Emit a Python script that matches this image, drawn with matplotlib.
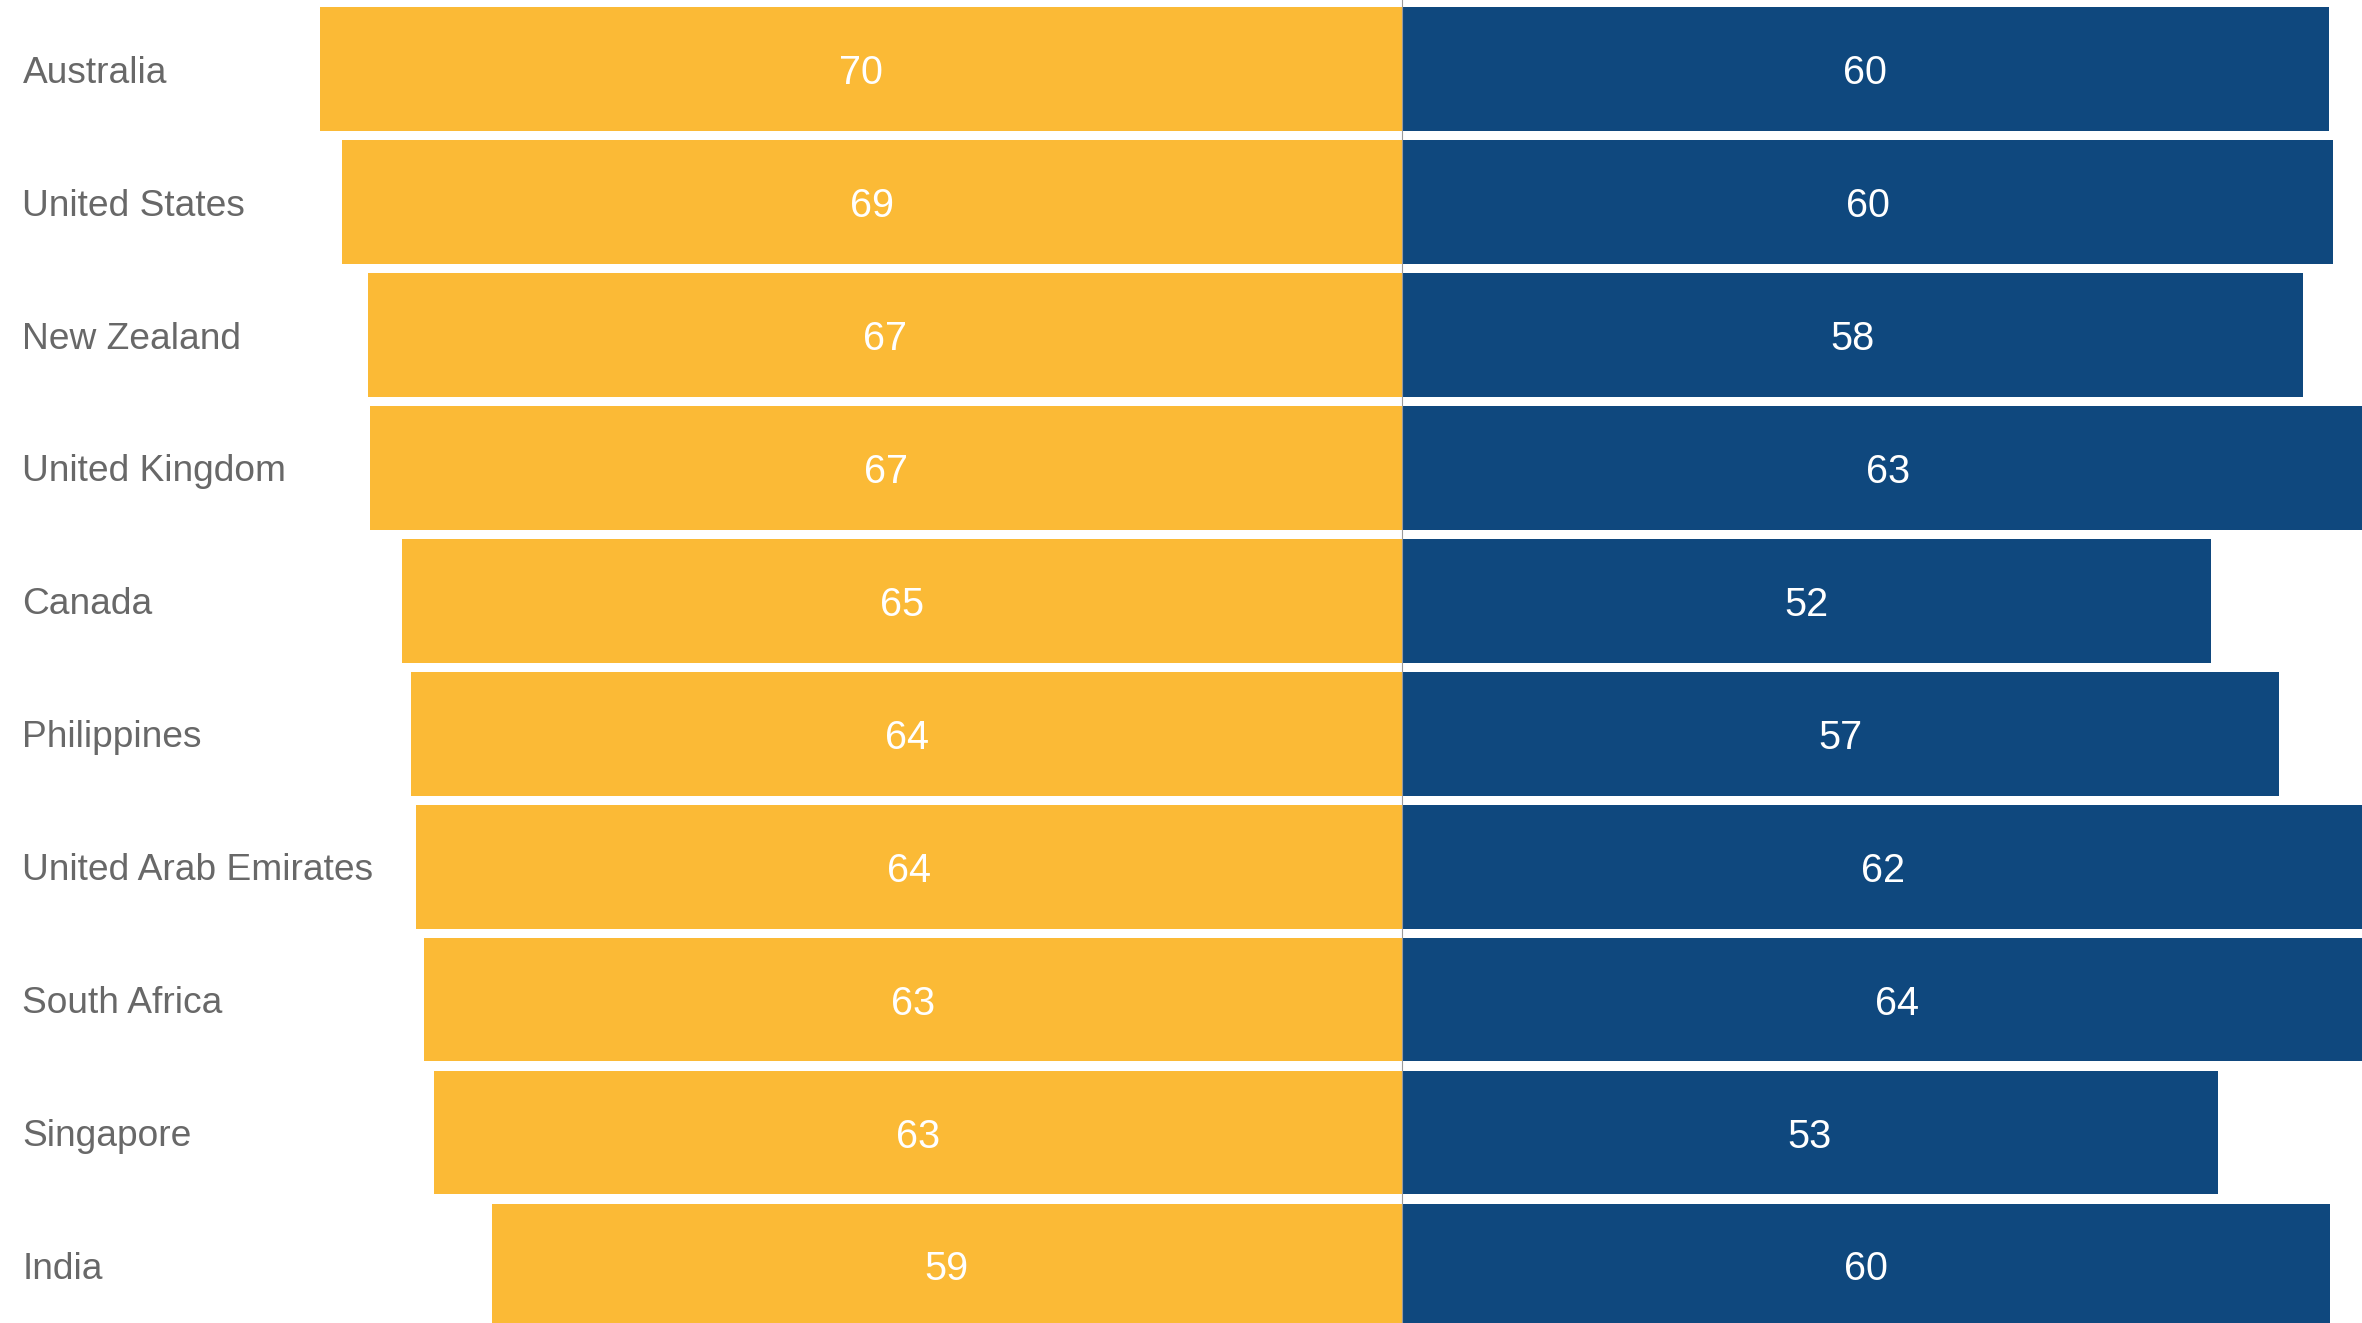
import matplotlib
matplotlib.use("Agg")
import matplotlib.pyplot as plt

# Data
countries = [
    "Australia",
    "United States",
    "New Zealand",
    "United Kingdom",
    "Canada",
    "Philippines",
    "United Arab Emirates",
    "South Africa",
    "Singapore",
    "India",
]
left_values = [70.0, 68.6, 66.9, 66.8, 64.7, 64.1, 63.8, 63.3, 62.6, 58.9]
right_values = [60.0, 60.3, 58.3, 62.9, 52.4, 56.8, 62.3, 64.1, 52.8, 60.1]

YELLOW = "#FBBA36"
BLUE = "#0F487E"
LABEL_GRAY = "#686868"

plt.rcParams["font.family"] = ["Liberation Sans", "DejaVu Sans"]

fig = plt.figure(figsize=(23.62, 13.23), dpi=100)
ax = fig.add_axes([0, 0, 1, 1])

ypos = list(range(len(countries)))
neg_left = [-v for v in left_values]

ax.barh(ypos, neg_left, height=0.93, color=YELLOW, linewidth=0, zorder=2)
ax.barh(ypos, right_values, height=0.93, color=BLUE, linewidth=0, zorder=2)
ax.axvline(0, color="#9a9a9a", linewidth=0.8, zorder=3)

for y, name, lv, rv in zip(ypos, countries, left_values, right_values):
    ax.text(0.0095, y, name, transform=ax.get_yaxis_transform(),
            ha="left", va="center_baseline", fontsize=26.7, color=LABEL_GRAY)
    ax.text(-lv / 2, y, f"{round(lv)}", ha="center", va="center_baseline",
            fontsize=28.5, color="white", zorder=4)
    ax.text(rv / 2, y, f"{round(rv)}", ha="center", va="center_baseline",
            fontsize=28.5, color="white", zorder=4)

ax.set_xlim(-90.72, 62.15)
ax.set_ylim(9.433, -0.521)
ax.axis("off")

fig.savefig("out.png", dpi=100)
